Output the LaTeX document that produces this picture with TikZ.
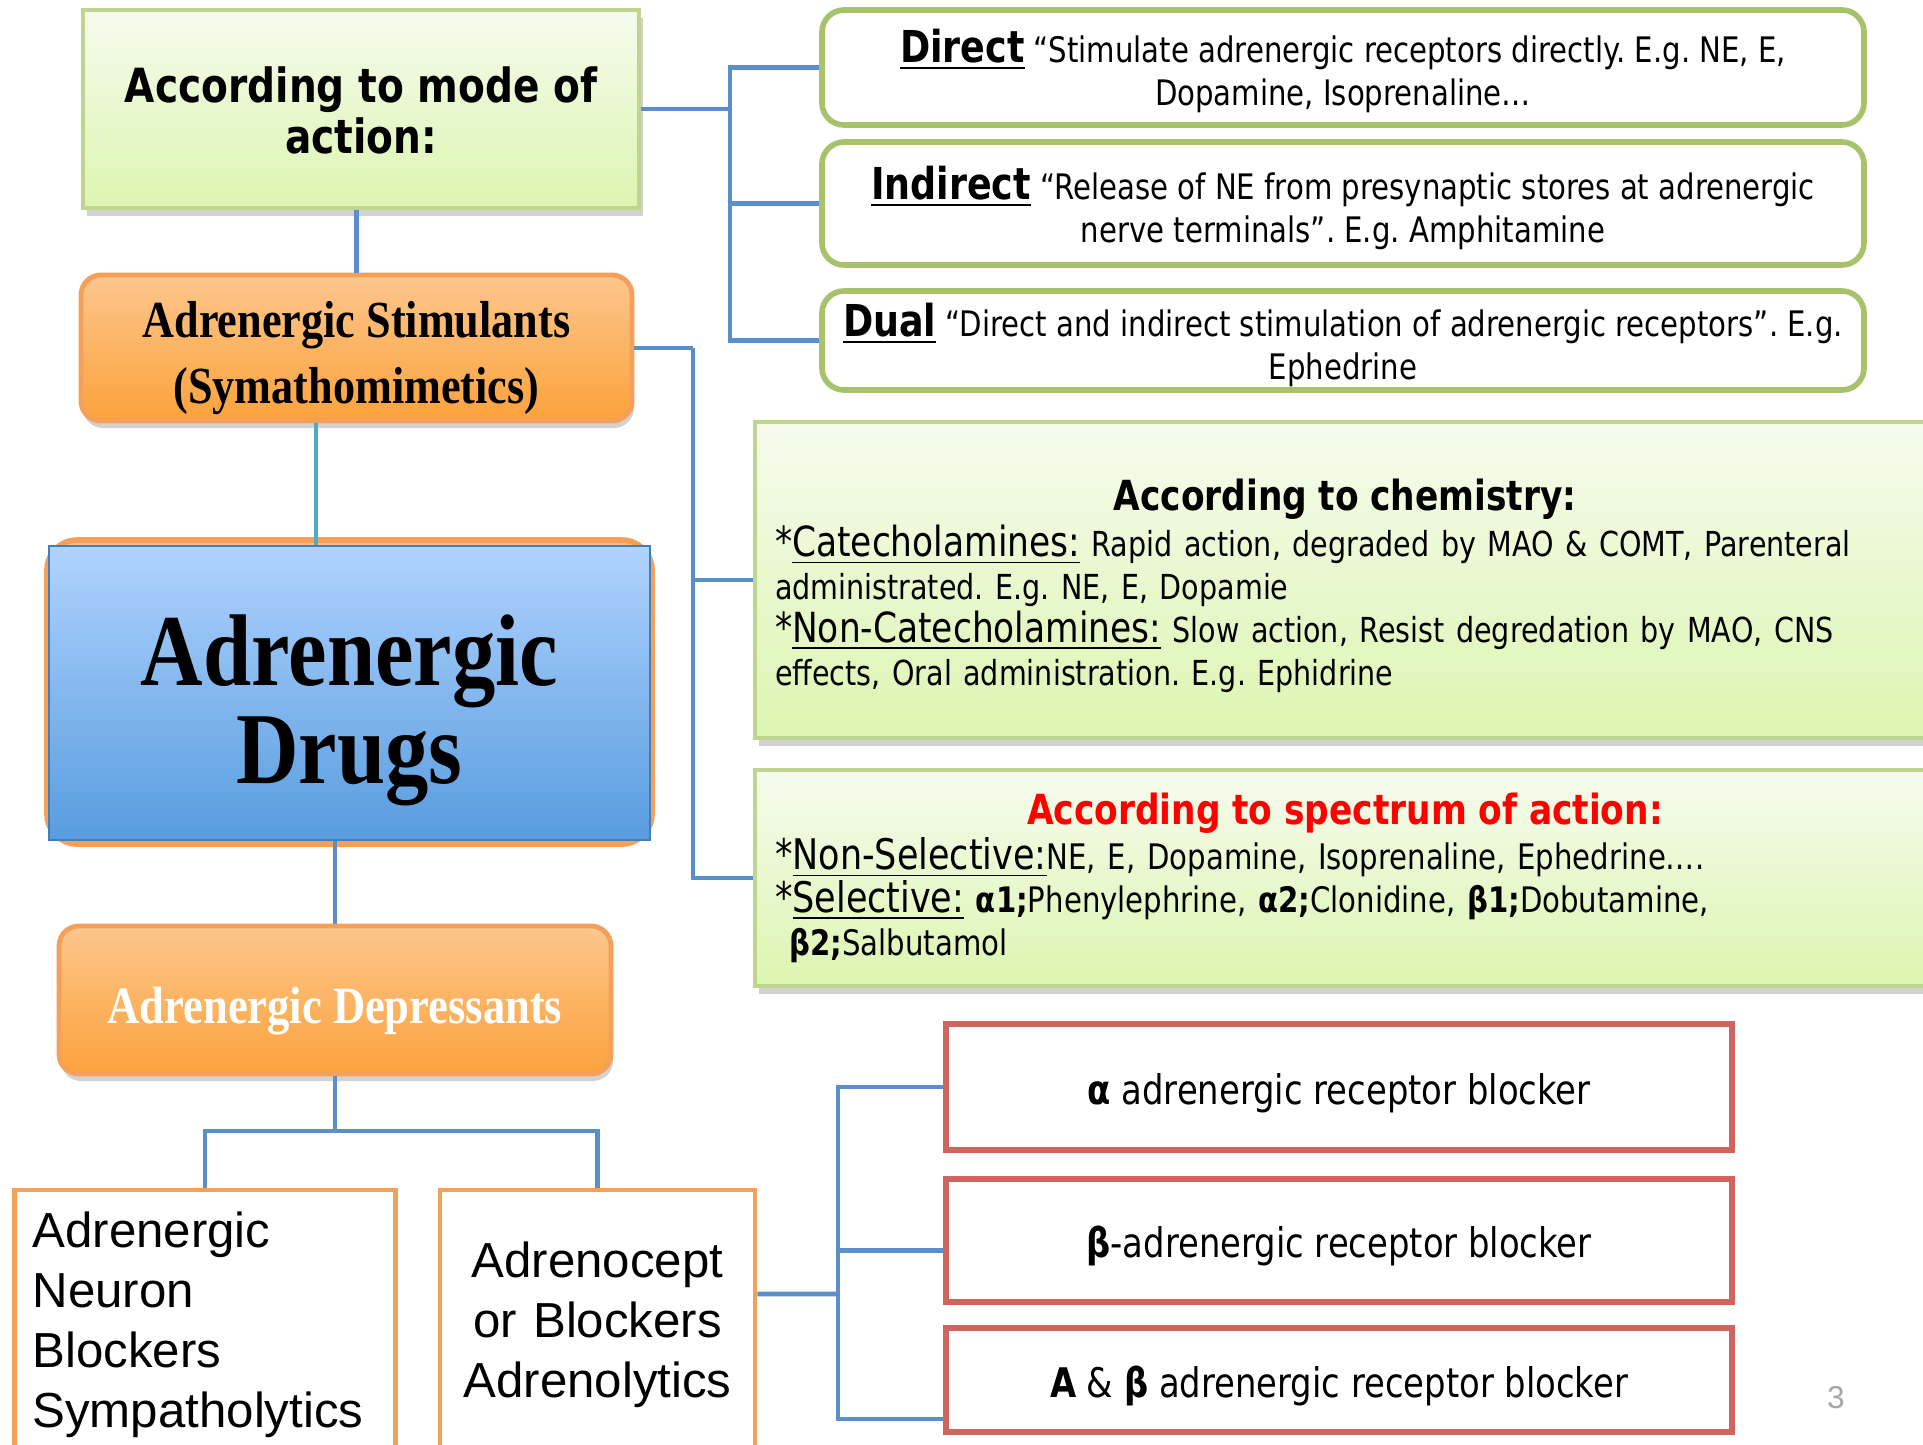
\documentclass[tikz,border=0pt]{standalone}
\usepackage{fontspec}
\setmainfont[FakeStretch=0.83]{DejaVu Sans}
\newfontfamily\drugfont[FakeStretch=0.85]{Liberation Serif}
\newfontfamily\arialfont{Liberation Sans}
\usetikzlibrary{shadows}
\frenchspacing

\definecolor{linkblue}{HTML}{5B8FC9}
\definecolor{linkcyan}{HTML}{4BACC6}
\definecolor{greenline}{HTML}{A7C26A}
\definecolor{greenlight}{HTML}{BED58E}
\definecolor{greentop}{HTML}{F6FBEE}
\definecolor{greenbot}{HTML}{DCF5B0}
\definecolor{orangeline}{HTML}{F5A05A}
\definecolor{orangetop}{HTML}{FCC68C}
\definecolor{orangebot}{HTML}{FCA23C}
\definecolor{bluetop}{HTML}{B0D3FE}
\definecolor{bluebot}{HTML}{589CDF}
\definecolor{redline}{HTML}{D0645F}
\definecolor{specred}{HTML}{FF0000}

% strut that lowers the text in a box
\newcommand{\lowerby}[1]{\rule{0pt}{#1}}

\tikzset{
  greenbox/.style={draw=greenlight, line width=1pt, top color=greentop, bottom color=greenbot,
    drop shadow={shadow xshift=0.4mm, shadow yshift=-0.8mm, opacity=0.35}},
  roundgreen/.style={draw=greenline, line width=1.6pt, rounded corners=2.2mm, fill=white, inner ysep=0pt},
  orangebox/.style={draw=orangeline, line width=1.4pt, rounded corners=2mm, top color=orangetop,
    bottom color=orangebot, inner ysep=0pt, drop shadow={shadow xshift=0.2mm, shadow yshift=-0.7mm, opacity=0.35}},
  whitebox/.style={draw=orangeline, line width=1.4pt, fill=white},
  redbox/.style={draw=redline, line width=1.6pt, fill=white, inner ysep=0pt, font=\fontsize{11.6}{14}\selectfont},
  link/.style={draw=linkblue, line width=1.4pt},
  body/.style={font=\fontsize{10}{12.2}\selectfont},
}

\begin{document}
\begin{tikzpicture}[x=0.1mm,y=-0.1mm]
\fill[white] (0,0) rectangle (1923,1444);
\useasboundingbox (0,0) rectangle (1923,1444);

% left column
\node[greenbox, minimum width=55.6mm, minimum height=19.8mm, align=center,
  font=\fontsize{13.4}{14.4}\selectfont\bfseries] (mode) at (361,109) {\lowerby{11pt}According to mode of\\action:};
\node[orangebox, minimum width=55.1mm, minimum height=14.6mm, align=center,
  font=\drugfont\fontsize{14.8}{18.8}\selectfont\bfseries] (stim) at (356.5,348)
  {\lowerby{16pt}Adrenergic Stimulants\\(Symathomimetics)};
\draw[draw=orangeline, line width=1.6pt, rounded corners=3mm, fill=orangeline!70] (47,540) rectangle (652,844);
\node[draw=bluebot!80!black, line width=0.4pt, top color=bluetop, bottom color=bluebot,
  minimum width=60.1mm, minimum height=29.4mm, align=center,
  font=\drugfont\fontsize{29}{28}\selectfont\bfseries] (drugs) at (349.5,693) {\lowerby{30pt}Adrenergic\\Drugs};
\node[orangebox, minimum width=55.2mm, minimum height=14.8mm, text=white,
  font=\drugfont\fontsize{14.9}{18}\selectfont\bfseries] (dep) at (335,1000) {\lowerby{16.5pt}Adrenergic Depressants};
\node[whitebox, minimum width=38mm, minimum height=27mm, text width=34.5mm, inner xsep=1.8mm, align=left,
  font=\arialfont\fontsize{14}{17.1}\selectfont] (neuron) at (205,1325)
  {Adrenergic\\Neuron\\Blockers\\Sympatholytics};
\node[whitebox, minimum width=31.5mm, minimum height=27mm, text width=29mm, align=center,
  font=\arialfont\fontsize{14}{17.1}\selectfont] (adr) at (597.5,1325)
  {Adrenocept\\or Blockers\\Adrenolytics};

% mode of action
\node[roundgreen, minimum width=104.2mm, minimum height=11.5mm, align=center, body] (direct) at (1343,67.5)
  {\lowerby{11.5pt}{\fontsize{12.5}{12.2}\selectfont\bfseries\underline{Direct}} “Stimulate adrenergic receptors directly. E.g. NE, E,\\Dopamine, Isoprenaline…};
\node[roundgreen, minimum width=104.2mm, minimum height=12.3mm, align=center, body] (indirect) at (1343,203.5)
  {\lowerby{12pt}{\fontsize{12.5}{12.2}\selectfont\bfseries\underline{Indirect}} “Release of NE from presynaptic stores at adrenergic\\nerve terminals”. E.g. Amphitamine};
\node[roundgreen, minimum width=104.2mm, minimum height=9.9mm, align=center, body] (dual) at (1343,340.5)
  {\lowerby{12pt}{\fontsize{12.5}{12.2}\selectfont\bfseries\underline{Dual}} “Direct and indirect stimulation of adrenergic receptors”. E.g.\\Ephedrine};

% chemistry and spectrum
\node[greenbox, minimum width=118mm, minimum height=31.6mm, text width=114mm, align=left,
  font=\fontsize{9.8}{12.2}\selectfont] (chem) at (1345,580)
  {{\centering\fontsize{11.8}{14.5}\selectfont\bfseries\lowerby{12.3pt}According to chemistry:\par}
   \vspace{1pt}\raggedright
   {\fontsize{11.8}{12}\selectfont*\underline{Catecholamines:}} Rapid action, degraded by MAO \& COMT, Parenteral\\
   administrated. E.g. NE, E, Dopamie\\
   {\fontsize{11.8}{12}\selectfont*\underline{Non-Catecholamines:}} Slow action, Resist degredation by MAO, CNS\\
   effects, Oral administration. E.g. Ephidrine\par};
\node[greenbox, minimum width=118mm, minimum height=21.6mm, text width=114mm, align=left, body] (spec) at (1345,878)
  {{\centering\fontsize{11.8}{14}\selectfont\bfseries\color{specred}According to spectrum of action:\par}
   \vspace{0.6pt}\raggedright
   {\fontsize{12}{12}\selectfont*\underline{Non-Selective:}}NE, E, Dopamine, Isoprenaline, Ephedrine….\\
   {\fontsize{12}{12}\selectfont*\underline{Selective:}} \textbf{α1;}Phenylephrine, \textbf{α2;}Clonidine, \textbf{β1;}Dobutamine,\\
   \phantom{*}\textbf{β2;}Salbutamol\par};

% receptor blockers
\node[redbox, minimum width=78.6mm, minimum height=12.6mm] (alpha) at (1339,1087)
  {\lowerby{12.2pt}\textbf{α} adrenergic receptor blocker};
\node[redbox, minimum width=78.6mm, minimum height=12.3mm] (beta) at (1339,1240.5)
  {\lowerby{12.2pt}\textbf{β}-adrenergic receptor blocker};
\node[redbox, minimum width=78.6mm, minimum height=10.4mm] (ab) at (1339,1380)
  {\lowerby{12.2pt}\textbf{A} \& \textbf{β} adrenergic receptor blocker};

\node[text=gray!70, font=\arialfont\fontsize{9}{10}\selectfont] (pnum) at (1836,1398) {3};

% connectors
\coordinate (modespine) at (730,109);
\coordinate (stimspine) at (693,348);
\coordinate (depspine) at (335,1131);
\coordinate (adrspine) at (838,1294);

\draw[link] (mode.east) -- (modespine);
\draw[link] (direct.west) -| (modespine);
\draw[link] (indirect.west) -| (modespine);
\draw[link] (dual.west) -| (modespine);
\draw[link] (stim.north) -- (stim.north |- mode.south);
\draw[draw=linkcyan, line width=1.4pt] ([xshift=-4.05mm]stim.south) -- ([xshift=-4.05mm]stim.south |- drugs.north);
\draw[link] (dep.north) -- (dep.north |- drugs.south);

\draw[link] (stim.east) -- (stimspine);
\draw[link] (chem.west) -| (stimspine);
\draw[link] (spec.west) -| (stimspine);

\draw[link] (dep.south) -- (depspine);
\draw[link] (neuron.north) |- (depspine);
\draw[link] (adr.north) |- (depspine);

\draw[link] ([yshift=3.1mm]adr.east) -- (adrspine);
\draw[link] (alpha.west) -| (adrspine);
\draw[link] ([yshift=-1mm]beta.west) -| (adrspine);
\draw[link] ([yshift=-3.9mm]ab.west) -| (adrspine);
\end{tikzpicture}
\end{document}
